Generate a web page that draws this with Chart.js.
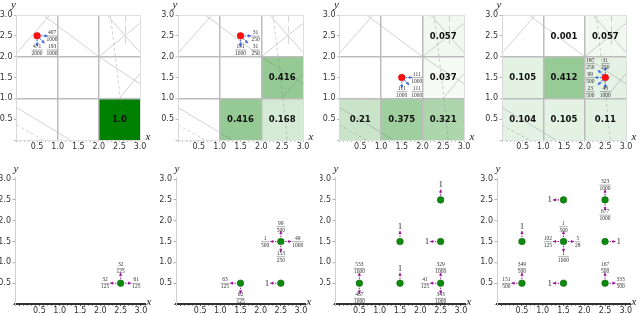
<!DOCTYPE html>
<html>
<head>
<meta charset="utf-8">
<script src="https://cdn.jsdelivr.net/npm/chart.js@4.4.0/dist/chart.umd.min.js"></script>
<style>
  html, body { margin: 0; padding: 0; background: #fff; width: 640px; height: 314px; overflow: hidden; }
  .panel { position: absolute; width: 160px; height: 157px; }
</style>
</head>
<body>
<div id="wrap"></div>
<script>
// ---- tick labels ----
const AXIS_TICKS = [0.5, 1.0, 1.5, 2.0, 2.5, 3.0];
const AXIS_LABELS = ['0.5', '1.0', '1.5', '2.0', '2.5', '3.0'];

// ---- top row: occupancy per cell [x, y, value, showLabel] ----
const cells1 = [[2, 0, 1.0]];
const cells2 = [[1, 0, 0.416], [2, 0, 0.168], [2, 1, 0.416]];
const cells3 = [[0, 0, 0.21], [1, 0, 0.375], [2, 0, 0.321], [2, 1, 0.037], [2, 2, 0.057]];
const cells4 = [[0, 0, 0.104], [1, 0, 0.105], [2, 0, 0.11], [0, 1, 0.105], [1, 1, 0.412],
                [2, 1, 0.106, false], [1, 2, 0.001], [2, 2, 0.057]];

// agent position (red dot)
const agent1 = [0.5, 2.5];
const agent2 = [1.5, 2.5];
const agent3 = [1.5, 1.5];
const agent4 = [2.5, 1.5];

// policy arrows [dx, dy, prob]
const policy1 = [[1, 0, '407/1000'], [1, -1, '193/1000'], [0, -1, '471/2000']];
const policy2 = [[1, 0, '31/250'], [0, -1, '191/1000'], [1, -1, '31/250']];
const policy3 = [[1, 0, '111/1000'], [0, -1, '111/1000'], [1, -1, '111/1000']];
const policy4 = [[-1, 1, '187/250'], [0, 1, '31/250'], [-1, 0, '99/500'], [-1, -1, '23/500'], [0, -1, '43/1000']];

// faint guide lines shared by the top panels [x1, y1, x2, y2, dash]
const guideLines = [
  [0.0, 2.08, 0.81, 3.0, 0],
  [0.65, 3.0, 2.0, 2.0, 0],
  [2.0, 2.0, 3.0, 2.8, 0],
  [2.0, 2.0, 3.0, 1.35, 0],
  [2.2, 3.0, 3.0, 2.1, 0],
  [3.0, 1.6, 2.5, 1.0, 0],
  [0.0, 0.78, 1.3, 0.0, 0],
  [0.0, 0.36, 0.65, 0.0, 1],
  [2.28, 3.0, 2.52, 1.0, 1],
  [2.65, 3.0, 2.65, 2.2, 2],
  [2.52, 1.0, 2.62, 0.0, 1]
];

// ---- bottom row: states (green dots) and transitions [x, y, dir, prob] ----
const states5 = [[2.5, 0.5]];
const moves5 = [[2.5, 0.5, 'u', '32/125'], [2.5, 0.5, 'l', '32/125'], [2.5, 0.5, 'r', '61/125']];

const states6 = [[1.5, 0.5], [2.5, 1.5], [2.5, 0.5]];
const moves6 = [[1.5, 0.5, 'l', '63/125'], [1.5, 0.5, 'd', '62/125'],
                [2.5, 1.5, 'u', '99/500'], [2.5, 1.5, 'l', '1/500'], [2.5, 1.5, 'r', '49/1000'], [2.5, 1.5, 'd', '153/250'],
                [2.5, 0.5, 'l', '1']];

const states7 = [[0.5, 0.5], [1.5, 1.5], [1.5, 0.5], [2.5, 2.5], [2.5, 1.5], [2.5, 0.5]];
const moves7 = [[0.5, 0.5, 'u', '533/1000'], [0.5, 0.5, 'd', '467/1000'],
                [1.5, 1.5, 'u', '1'], [1.5, 0.5, 'u', '1'], [2.5, 2.5, 'u', '1'], [2.5, 1.5, 'l', '1'],
                [2.5, 0.5, 'u', '329/1000'], [2.5, 0.5, 'l', '41/125'], [2.5, 0.5, 'd', '343/1000']];

const states8 = [[0.5, 1.5], [0.5, 0.5], [1.5, 2.5], [1.5, 1.5], [1.5, 0.5], [2.5, 2.5], [2.5, 1.5], [2.5, 0.5]];
const moves8 = [[0.5, 1.5, 'u', '1'], [0.5, 0.5, 'u', '349/500'], [0.5, 0.5, 'l', '151/500'],
                [1.5, 2.5, 'l', '1'],
                [1.5, 1.5, 'u', '1/500'], [1.5, 1.5, 'l', '102/125'], [1.5, 1.5, 'r', '5/28'], [1.5, 1.5, 'd', '1/1000'],
                [1.5, 0.5, 'l', '1'],
                [2.5, 2.5, 'u', '323/1000'], [2.5, 2.5, 'd', '677/1000'],
                [2.5, 1.5, 'r', '1'],
                [2.5, 0.5, 'u', '167/500'], [2.5, 0.5, 'r', '333/500']];

// ---- layout of the 8 panels (plot area inside each 160x157 canvas) ----
const panels = [
  { row: 0, col: 0, l: 16.5, r: 140, cells: cells1, agent: agent1, policy: policy1 },
  { row: 0, col: 1, l: 18, r: 143, cells: cells2, agent: agent2, policy: policy2 },
  { row: 0, col: 2, l: 19.5, r: 144, cells: cells3, agent: agent3, policy: policy3 },
  { row: 0, col: 3, l: 22, r: 146, cells: cells4, agent: agent4, policy: policy4 },
  { row: 1, col: 0, l: 15, r: 145, states: states5, moves: moves5 },
  { row: 1, col: 1, l: 16, r: 145, states: states6, moves: moves6 },
  { row: 1, col: 2, l: 15, r: 145, states: states7, moves: moves7 },
  { row: 1, col: 3, l: 17, r: 150, states: states8, moves: moves8 }
];

const W = 160, H = 157;
const BLUE = '#3f68e0', MAGENTA = '#a0189c', GREEN = '#0f8a0f';

function tickLabel(v) {
  const k = AXIS_TICKS.findIndex(t => Math.abs(t - v) < 1e-6);
  return k >= 0 ? AXIS_LABELS[k] : '';
}

function near(v, t) { return Math.abs(v - t) < 1e-6; }
function isHalf(v) { return near(v * 2, Math.round(v * 2)); }

function arrow(ctx, x0, y0, x1, y1, color) {
  ctx.strokeStyle = color;
  ctx.fillStyle = color;
  ctx.lineWidth = 1.1;
  ctx.setLineDash([1.3, 1.2]);
  ctx.beginPath(); ctx.moveTo(x0, y0); ctx.lineTo(x1, y1); ctx.stroke();
  ctx.setLineDash([]);
  const a = Math.atan2(y1 - y0, x1 - x0), h = 3;
  ctx.beginPath();
  ctx.moveTo(x1 + Math.cos(a), y1 + Math.sin(a));
  ctx.lineTo(x1 - h * Math.cos(a - 0.55), y1 - h * Math.sin(a - 0.55));
  ctx.lineTo(x1 - h * Math.cos(a + 0.55), y1 - h * Math.sin(a + 0.55));
  ctx.closePath(); ctx.fill();
}

function labelWidth(ctx, text) {
  if (text.indexOf('/') < 0) {
    ctx.font = "9px 'Liberation Serif'";
    return ctx.measureText(text).width;
  }
  ctx.font = "5.5px 'Liberation Serif'";
  const [n, d] = text.split('/');
  return Math.max(ctx.measureText(n).width, ctx.measureText(d).width);
}

function drawLabel(ctx, cx, cy, text) {
  ctx.fillStyle = '#333';
  ctx.textAlign = 'center';
  ctx.textBaseline = 'middle';
  if (text.indexOf('/') < 0) {
    ctx.font = "9px 'Liberation Serif'";
    ctx.fillText(text, cx, cy);
    return;
  }
  const [n, d] = text.split('/');
  const w = labelWidth(ctx, text);
  ctx.font = "5.5px 'Liberation Serif'";
  ctx.fillText(n, cx, cy - 3.3);
  ctx.fillText(d, cx, cy + 3.7);
  ctx.strokeStyle = '#555';
  ctx.lineWidth = 0.5;
  ctx.beginPath(); ctx.moveTo(cx - w / 2, cy + 0.2); ctx.lineTo(cx + w / 2, cy + 0.2); ctx.stroke();
}

function makePlugin(p) {
  return {
    id: 'gridworld',
    beforeDraw(chart) {
      if (!p.cells) return;
      const { ctx, chartArea: a } = chart;
      const sx = v => chart.scales.x.getPixelForValue(v);
      const sy = v => chart.scales.y.getPixelForValue(v);
      ctx.save();
      for (const c of p.cells) {
        ctx.fillStyle = 'rgba(0,128,0,' + c[2] + ')';
        ctx.fillRect(sx(c[0]), sy(c[1] + 1), sx(c[0] + 1) - sx(c[0]), sy(c[1]) - sy(c[1] + 1));
      }
      ctx.beginPath(); ctx.rect(a.left, a.top, a.right - a.left, a.bottom - a.top); ctx.clip();
      ctx.strokeStyle = 'rgba(110,110,110,0.45)';
      ctx.lineWidth = 0.7;
      for (const g of guideLines) {
        ctx.setLineDash(g[4] === 1 ? [3, 2.5] : g[4] === 2 ? [7, 4] : []);
        ctx.beginPath(); ctx.moveTo(sx(g[0]), sy(g[1])); ctx.lineTo(sx(g[2]), sy(g[3])); ctx.stroke();
      }
      ctx.restore();
    },
    afterDatasetsDraw(chart) {
      const { ctx, chartArea: a } = chart;
      const sx = v => chart.scales.x.getPixelForValue(v);
      const sy = v => chart.scales.y.getPixelForValue(v);
      ctx.save();
      if (p.cells) {
        ctx.font = "bold 8.5px 'DejaVu Sans'";
        ctx.fillStyle = '#111';
        ctx.textAlign = 'center';
        ctx.textBaseline = 'middle';
        for (const c of p.cells) {
          if (c[3] === false) continue;
          const txt = c[2] === 1 ? '1.0' : String(c[2]);
          ctx.fillText(txt, sx(c[0] + 0.5), sy(c[1] + 0.5) + 0.5);
        }
        const ax = sx(p.agent[0]), ay = sy(p.agent[1]);
        for (const m of p.policy) {
          const len = Math.hypot(m[0], m[1]);
          const ux = m[0] / len, uy = -m[1] / len;
          arrow(ctx, ax + ux * 4, ay + uy * 4, ax + ux * 10, ay + uy * 10, BLUE);
          drawLabel(ctx, ax + m[0] * 15, ay - m[1] * 14, m[2]);
        }
      }
      if (p.moves) {
        const dirs = { u: [0, -1], d: [0, 1], l: [-1, 0], r: [1, 0] };
        for (const m of p.moves) {
          const x = sx(m[0]), y = sy(m[1]);
          const [ux, uy] = dirs[m[2]];
          arrow(ctx, x + ux * 4.5, y + uy * 4.5, x + ux * 10, y + uy * 10, MAGENTA);
          let cx = x, cy = y;
          if (ux === 0) cy = y + uy * 15;
          else cx = x + ux * (11.5 + labelWidth(ctx, m[3]) / 2);
          drawLabel(ctx, cx, cy, m[3]);
        }
      }
      // axis letters
      ctx.fillStyle = '#222';
      ctx.font = "italic 11px 'Liberation Serif'";
      ctx.textAlign = 'center';
      ctx.textBaseline = 'middle';
      if (p.row === 0) {
        ctx.fillText('y', a.left - 3, 5);
        ctx.fillText('x', a.right + 8, a.bottom - 3);
      } else {
        ctx.fillText('y', a.left + 1, 12);
        ctx.fillText('x', a.right + 4, a.bottom - 2);
      }
      ctx.restore();
    }
  };
}

function build(p) {
  const div = document.createElement('div');
  div.className = 'panel';
  div.style.left = (p.col * W) + 'px';
  div.style.top = (p.row * H) + 'px';
  const canvas = document.createElement('canvas');
  canvas.width = W; canvas.height = H;
  div.appendChild(canvas);
  document.getElementById('wrap').appendChild(div);

  const top = p.row === 0;
  const xMin = top ? 0 : -0.1, xMax = top ? 3 : 3.1;
  const yMin = 0, yMax = top ? 3 : 3.05;
  const padTop = top ? 15 : 20;
  const plotBottom = top ? 140 : 147;

  const xTicks = [];
  for (let i = Math.round(xMin * 10); i <= Math.round(xMax * 10); i++) xTicks.push(i / 10);
  const yTicks = [0, 0.5, 1, 1.5, 2, 2.5, 3];

  const gridColor = ctx => {
    if (!top) return 'rgba(0,0,0,0)';
    const v = ctx.tick.value;
    if (near(v, 1) || near(v, 2)) return '#bcbcbc';
    if (near(v, 3)) return '#dedede';
    return 'rgba(0,0,0,0)';
  };
  const gridWidth = ctx => (near(ctx.tick.value, 1) || near(ctx.tick.value, 2)) ? 1.5 : 1;
  const xTickColor = ctx => top ? '#a8a8a8' : (isHalf(ctx.tick.value) ? '#333' : '#8a8a8a');

  const points = top ? [{ x: p.agent[0], y: p.agent[1] }] : p.states.map(s => ({ x: s[0], y: s[1] }));

  new Chart(canvas, {
    type: 'scatter',
    data: {
      datasets: [{
        data: points,
        pointRadius: 3.3,
        pointBackgroundColor: top ? '#ff1010' : GREEN,
        pointBorderColor: top ? '#d00000' : '#0a6a0a',
        pointBorderWidth: 0.6
      }]
    },
    options: {
      responsive: false,
      devicePixelRatio: 1,
      animation: false,
      events: [],
      layout: { padding: { left: 0, top: padTop, right: W - p.r, bottom: 0 } },
      plugins: { legend: { display: false }, tooltip: { enabled: false } },
      scales: {
        x: {
          type: 'linear', min: xMin, max: xMax,
          afterBuildTicks: s => { s.ticks = xTicks.map(v => ({ value: v })); },
          afterFit: s => { s.height = H - plotBottom; },
          ticks: {
            autoSkip: false, maxRotation: 0, minRotation: 0, padding: 0,
            color: '#333', font: { family: 'DejaVu Sans', size: 8 },
            callback: v => tickLabel(v)
          },
          grid: {
            color: gridColor, lineWidth: gridWidth,
            drawTicks: true, tickLength: 2, tickWidth: 0.8,
            tickColor: xTickColor
          },
          border: { display: true, color: top ? '#e2e2e2' : '#333', width: top ? 1 : 2 }
        },
        y: {
          type: 'linear', min: yMin, max: yMax,
          afterBuildTicks: s => { s.ticks = yTicks.map(v => ({ value: v })); },
          afterFit: s => { s.width = p.l; },
          ticks: {
            autoSkip: false, padding: 1.5,
            color: '#333', font: { family: 'DejaVu Sans', size: 8 },
            callback: v => tickLabel(v)
          },
          grid: {
            color: gridColor, lineWidth: gridWidth,
            drawTicks: true, tickLength: 2.5, tickWidth: 0.8,
            tickColor: top ? '#a8a8a8' : '#999'
          },
          border: { display: true, color: top ? '#d8d8d8' : '#cfcfcf', width: 1 }
        }
      }
    },
    plugins: [makePlugin(p)]
  });
}

panels.forEach(build);
</script>
</body>
</html>
